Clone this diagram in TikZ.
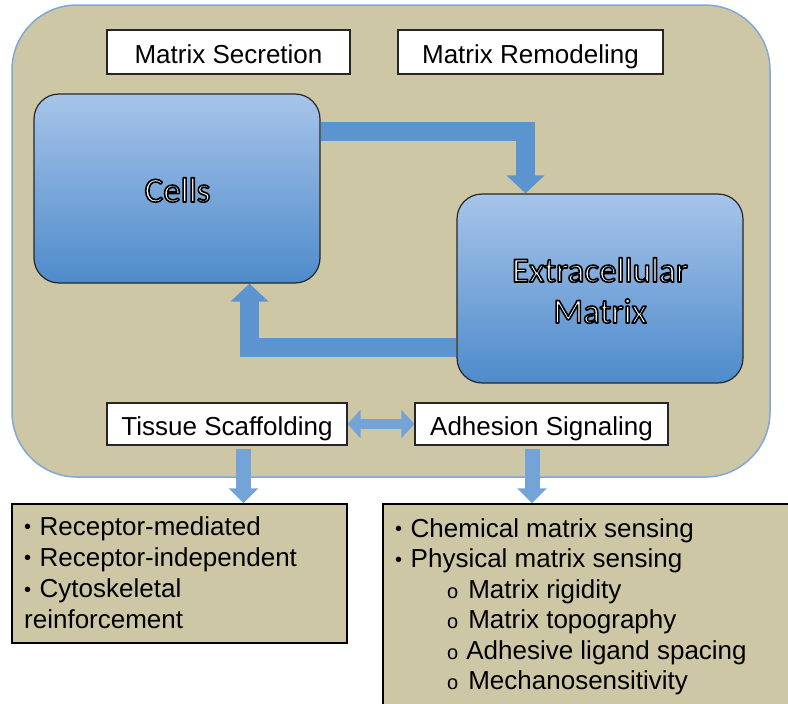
\documentclass[tikz,border=0pt]{standalone}
\usepackage{fontspec}
\setmainfont{Liberation Sans}
\newfontfamily\calfont{Carlito}
\usetikzlibrary{arrows.meta,calc}
\definecolor{bgtan}{HTML}{CEC7A6}
\definecolor{bordblue}{HTML}{7FA7D8}
\definecolor{arrblue}{HTML}{5C94D0}
\definecolor{boxtop}{HTML}{A7C4E9}
\definecolor{boxbot}{HTML}{4E8BCB}
\pgfdeclarelayer{bg}\pgfdeclarelayer{arr}\pgfsetlayers{bg,arr,main}
\newcommand\otext[1]{\textcolor{white}{\special{pdf:literal 0 G 1.6 w 1 j 2 Tr}#1\special{pdf:literal 0 Tr}}}
\newcommand\bul{{\raisebox{1.5pt}{\fontsize{20}{20}\selectfont •}}\hspace{8.5pt}}
\newcommand\sub{{\fontsize{20}{20}\selectfont o}}
\begin{document}
\begin{tikzpicture}[x=1pt,y=-1pt,
  panel/.style={draw=bordblue, fill=bgtan, line width=1.5pt, rounded corners=65pt, inner sep=0},
  bluebox/.style={draw=black!85, line width=1.2pt, rounded corners=25pt, top color=boxtop, bottom color=boxbot, minimum width=286pt, minimum height=189pt, inner sep=0},
  bigtxt/.style={font=\calfont\fontsize{35}{41}\selectfont, anchor=base, inner sep=0},
  lbox/.style={draw=black!85, fill=white, line width=1.2pt, minimum height=44pt, font=\fontsize{26}{30}\selectfont, inner sep=0, text height=22pt, text depth=0pt},
  listbox/.style={draw=black, fill=bgtan, line width=1.5pt, inner sep=0},
  itemtxt/.style={font=\fontsize{26}{31}\selectfont, anchor=base west, inner sep=0},
  fatarrow/.style={draw=arrblue, line width=19pt, -{Triangle[width=37pt,length=18pt]}},
  dblarrow/.style={draw=arrblue!85!white, line width=10pt, {Triangle[width=28pt,length=13pt]}-{Triangle[width=28pt,length=13pt]}},
  downarrow/.style={draw=arrblue!85!white, line width=15pt, -{Triangle[width=29pt,length=15pt]}}
]
\useasboundingbox (0,0) rectangle (788,704);
\clip (0,0) rectangle (788,704);
\begin{pgfonlayer}{bg}
\node[panel, minimum width=758pt, minimum height=472pt] (pan) at (391,241) {};
\end{pgfonlayer}
\node[lbox, minimum width=243pt] (ms) at (228.5,52) {Matrix Secretion};
\node[lbox, minimum width=265pt] (mr) at (530.5,52) {Matrix Remodeling};
\node[bluebox] (cells) at (177,188.5) {};
\node[bluebox] (ecm) at (600,288.5) {};
\node[bigtxt] (cellst) at (177.5,202) {\otext{Cells}};
\node[bigtxt] (ecmt1) at (600,282) {\otext{Extracellular}};
\node[bigtxt] (ecmt2) at (600,323) {\otext{Matrix}};
\node[lbox, minimum width=240pt, minimum height=42pt] (ts) at (227,424) {Tissue Scaffolding};
\node[lbox, minimum width=253pt, minimum height=42pt] (as) at (541.5,424) {Adhesion Signaling};
\node[listbox, minimum width=335pt, minimum height=139pt] (lb) at (179.5,573.5) {};
\node[listbox, minimum width=417pt, minimum height=216pt] (rb) at (591.5,612) {};
\node[itemtxt] (l1) at (24,535) {\bul Receptor-mediated};
\node[itemtxt] (l2) at (24,566) {\bul Receptor-independent};
\node[itemtxt] (l3) at (24,597.5) {\bul Cytoskeletal};
\node[itemtxt] (l4) at (24,628.5) {reinforcement};
\node[itemtxt] (r1) at (395,537) {\bul Chemical matrix sensing};
\node[itemtxt] (r2) at (395,567.5) {\bul Physical matrix sensing};
\node[itemtxt] (r3) at (447,598) {\sub\hspace{10pt}Matrix rigidity};
\node[itemtxt] (r4) at (447,628.5) {\sub\hspace{10pt}Matrix topography};
\node[itemtxt] (r5) at (447,659) {\sub\hspace{8pt}Adhesive ligand spacing};
\node[itemtxt] (r6) at (447,689.5) {\sub\hspace{10pt}Mechanosensitivity};
\coordinate (tsa) at ($(ts.south)+(16.5,3)$);
\coordinate (asa) at ($(as.south)+(-9.5,3)$);
\begin{pgfonlayer}{arr}
\draw[fatarrow] ([yshift=-38.5pt]cells.north east) -| ([xshift=-74.5pt]ecm.north);
\draw[fatarrow] ([yshift=-59pt]ecm.west) -| ([xshift=72.5pt]cells.south);
\draw[dblarrow] (ts.east) -- (as.west);
\draw[downarrow] (tsa) -- (tsa |- lb.north);
\draw[downarrow] (asa) -- (asa |- rb.north);
\end{pgfonlayer}
\end{tikzpicture}
\end{document}
